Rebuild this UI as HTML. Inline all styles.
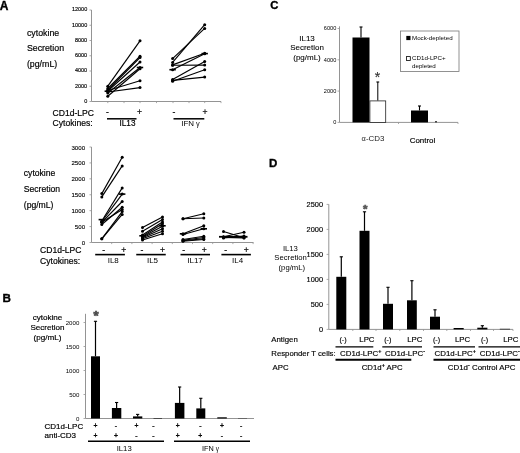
<!DOCTYPE html>
<html><head><meta charset="utf-8"><title>Figure</title>
<style>html,body{margin:0;padding:0;background:#fff;}svg{display:block;}text{font-family:"Liberation Sans",Arial,sans-serif;fill:#000;}</style>
</head><body>
<svg width="520" height="453" viewBox="0 0 520 453">
<rect x="0" y="0" width="520" height="453" fill="#fff"/>
<text x="-0.2" y="10" font-size="12" text-anchor="start" font-weight="bold" stroke="#000" stroke-width="0.35">A</text>
<line x1="91.5" y1="10.0" x2="91.5" y2="101.5" stroke="#949494" stroke-width="1"/>
<line x1="91.5" y1="101.5" x2="221" y2="101.5" stroke="#949494" stroke-width="1"/>
<line x1="89.5" y1="101.5" x2="91.5" y2="101.5" stroke="#949494" stroke-width="0.8"/>
<text x="87.2" y="102.98" font-size="5.5" text-anchor="end" stroke="#000" stroke-width="0.15">0</text>
<line x1="89.5" y1="86.25" x2="91.5" y2="86.25" stroke="#949494" stroke-width="0.8"/>
<text x="87.2" y="87.73" font-size="5.5" text-anchor="end" stroke="#000" stroke-width="0.15">2000</text>
<line x1="89.5" y1="71.0" x2="91.5" y2="71.0" stroke="#949494" stroke-width="0.8"/>
<text x="87.2" y="72.48" font-size="5.5" text-anchor="end" stroke="#000" stroke-width="0.15">4000</text>
<line x1="89.5" y1="55.75" x2="91.5" y2="55.75" stroke="#949494" stroke-width="0.8"/>
<text x="87.2" y="57.23" font-size="5.5" text-anchor="end" stroke="#000" stroke-width="0.15">6000</text>
<line x1="89.5" y1="40.5" x2="91.5" y2="40.5" stroke="#949494" stroke-width="0.8"/>
<text x="87.2" y="41.98" font-size="5.5" text-anchor="end" stroke="#000" stroke-width="0.15">8000</text>
<line x1="89.5" y1="25.25" x2="91.5" y2="25.25" stroke="#949494" stroke-width="0.8"/>
<text x="87.2" y="26.73" font-size="5.5" text-anchor="end" stroke="#000" stroke-width="0.15">10000</text>
<line x1="89.5" y1="10.0" x2="91.5" y2="10.0" stroke="#949494" stroke-width="0.8"/>
<text x="87.2" y="11.48" font-size="5.5" text-anchor="end" stroke="#000" stroke-width="0.15">12000</text>
<line x1="107.8" y1="101.5" x2="107.8" y2="103.1" stroke="#949494" stroke-width="0.8"/>
<line x1="124" y1="101.5" x2="124" y2="103.1" stroke="#949494" stroke-width="0.8"/>
<line x1="140" y1="101.5" x2="140" y2="103.1" stroke="#949494" stroke-width="0.8"/>
<line x1="156.5" y1="101.5" x2="156.5" y2="103.1" stroke="#949494" stroke-width="0.8"/>
<line x1="173" y1="101.5" x2="173" y2="103.1" stroke="#949494" stroke-width="0.8"/>
<line x1="189" y1="101.5" x2="189" y2="103.1" stroke="#949494" stroke-width="0.8"/>
<line x1="204.7" y1="101.5" x2="204.7" y2="103.1" stroke="#949494" stroke-width="0.8"/>
<line x1="221" y1="101.5" x2="221" y2="103.1" stroke="#949494" stroke-width="0.8"/>
<text x="26.9" y="35.67" font-size="8.8" text-anchor="start" stroke="#000" stroke-width="0.18">cytokine</text>
<text x="26.9" y="51.17" font-size="8.8" text-anchor="start" stroke="#000" stroke-width="0.18">Secretion</text>
<text x="26.9" y="66.97" font-size="8.8" text-anchor="start" stroke="#000" stroke-width="0.18">(pg/mL)</text>
<line x1="107.8" y1="86.2" x2="140" y2="40.8" stroke="#000" stroke-width="1.15"/>
<circle cx="107.8" cy="86.2" r="1.5" fill="#000"/>
<circle cx="140" cy="40.8" r="1.5" fill="#000"/>
<line x1="107.8" y1="88.5" x2="140" y2="56.2" stroke="#000" stroke-width="1.15"/>
<circle cx="107.8" cy="88.5" r="1.5" fill="#000"/>
<circle cx="140" cy="56.2" r="1.5" fill="#000"/>
<line x1="107.8" y1="90" x2="140" y2="57.5" stroke="#000" stroke-width="1.15"/>
<circle cx="107.8" cy="90" r="1.5" fill="#000"/>
<circle cx="140" cy="57.5" r="1.5" fill="#000"/>
<line x1="107.8" y1="91" x2="140" y2="62" stroke="#000" stroke-width="1.15"/>
<circle cx="107.8" cy="91" r="1.5" fill="#000"/>
<circle cx="140" cy="62" r="1.5" fill="#000"/>
<line x1="107.8" y1="93" x2="140" y2="67.5" stroke="#000" stroke-width="1.15"/>
<circle cx="107.8" cy="93" r="1.5" fill="#000"/>
<circle cx="140" cy="67.5" r="1.5" fill="#000"/>
<line x1="107.8" y1="96.3" x2="140" y2="68.8" stroke="#000" stroke-width="1.15"/>
<circle cx="107.8" cy="96.3" r="1.5" fill="#000"/>
<circle cx="140" cy="68.8" r="1.5" fill="#000"/>
<line x1="107.8" y1="90.5" x2="140" y2="80.8" stroke="#000" stroke-width="1.15"/>
<circle cx="107.8" cy="90.5" r="1.5" fill="#000"/>
<circle cx="140" cy="80.8" r="1.5" fill="#000"/>
<line x1="107.8" y1="92" x2="140" y2="87.6" stroke="#000" stroke-width="1.15"/>
<circle cx="107.8" cy="92" r="1.5" fill="#000"/>
<circle cx="140" cy="87.6" r="1.5" fill="#000"/>
<line x1="104.6" y1="91.2" x2="111.0" y2="91.2" stroke="#000" stroke-width="1.6"/>
<line x1="136.8" y1="67.5" x2="143.2" y2="67.5" stroke="#000" stroke-width="1.6"/>
<line x1="172.6" y1="58.6" x2="204.7" y2="28.4" stroke="#000" stroke-width="1.15"/>
<circle cx="172.6" cy="58.6" r="1.5" fill="#000"/>
<circle cx="204.7" cy="28.4" r="1.5" fill="#000"/>
<line x1="172.6" y1="62.4" x2="204.7" y2="24.7" stroke="#000" stroke-width="1.15"/>
<circle cx="172.6" cy="62.4" r="1.5" fill="#000"/>
<circle cx="204.7" cy="24.7" r="1.5" fill="#000"/>
<line x1="172.6" y1="64.9" x2="204.7" y2="53.2" stroke="#000" stroke-width="1.15"/>
<circle cx="172.6" cy="64.9" r="1.5" fill="#000"/>
<circle cx="204.7" cy="53.2" r="1.5" fill="#000"/>
<line x1="172.6" y1="65.2" x2="204.7" y2="65.1" stroke="#000" stroke-width="1.15"/>
<circle cx="172.6" cy="65.2" r="1.5" fill="#000"/>
<circle cx="204.7" cy="65.1" r="1.5" fill="#000"/>
<line x1="172.6" y1="69.7" x2="204.7" y2="53.8" stroke="#000" stroke-width="1.15"/>
<circle cx="172.6" cy="69.7" r="1.5" fill="#000"/>
<circle cx="204.7" cy="53.8" r="1.5" fill="#000"/>
<line x1="172.6" y1="79.4" x2="204.7" y2="61.4" stroke="#000" stroke-width="1.15"/>
<circle cx="172.6" cy="79.4" r="1.5" fill="#000"/>
<circle cx="204.7" cy="61.4" r="1.5" fill="#000"/>
<line x1="172.6" y1="81.3" x2="204.7" y2="69.7" stroke="#000" stroke-width="1.15"/>
<circle cx="172.6" cy="81.3" r="1.5" fill="#000"/>
<circle cx="204.7" cy="69.7" r="1.5" fill="#000"/>
<line x1="172.6" y1="80.4" x2="204.7" y2="77.1" stroke="#000" stroke-width="1.15"/>
<circle cx="172.6" cy="80.4" r="1.5" fill="#000"/>
<circle cx="204.7" cy="77.1" r="1.5" fill="#000"/>
<line x1="169.4" y1="69.7" x2="175.79999999999998" y2="69.7" stroke="#000" stroke-width="1.6"/>
<line x1="201.5" y1="53.6" x2="207.89999999999998" y2="53.6" stroke="#000" stroke-width="1.6"/>
<text x="52.5" y="115.6" font-size="8.6" text-anchor="start" stroke="#000" stroke-width="0.18">CD1d-LPC</text>
<text x="52.5" y="126.1" font-size="8.6" text-anchor="start" stroke="#000" stroke-width="0.18">Cytokines:</text>
<text x="107.5" y="115.4" font-size="8.6" text-anchor="middle" stroke="#000" stroke-width="0.18">-</text>
<text x="139.5" y="115.4" font-size="8.6" text-anchor="middle" stroke="#000" stroke-width="0.18">+</text>
<text x="174" y="115.4" font-size="8.6" text-anchor="middle" stroke="#000" stroke-width="0.18">-</text>
<text x="205" y="115.4" font-size="8.6" text-anchor="middle" stroke="#000" stroke-width="0.18">+</text>
<line x1="107" y1="118.8" x2="136.5" y2="118.8" stroke="#000" stroke-width="1.5"/>
<line x1="173.5" y1="118.8" x2="204.3" y2="118.8" stroke="#000" stroke-width="1.5"/>
<text x="127.5" y="126.35" font-size="8.2" text-anchor="middle" stroke="#000" stroke-width="0.18">IL13</text>
<text x="190.5" y="126.44" font-size="7.9" text-anchor="middle">IFN <tspan font-size="7.4">γ</tspan></text>
<line x1="91.5" y1="147" x2="91.5" y2="242.5" stroke="#949494" stroke-width="1"/>
<line x1="91.5" y1="242.5" x2="253.5" y2="242.5" stroke="#949494" stroke-width="1"/>
<line x1="89.5" y1="242.5" x2="91.5" y2="242.5" stroke="#949494" stroke-width="0.8"/>
<text x="85.1" y="245.01" font-size="6.15" text-anchor="end" stroke="#000" stroke-width="0.12">0</text>
<line x1="89.5" y1="226.58333333333334" x2="91.5" y2="226.58333333333334" stroke="#949494" stroke-width="0.8"/>
<text x="85.1" y="229.1" font-size="6.15" text-anchor="end" stroke="#000" stroke-width="0.12">500</text>
<line x1="89.5" y1="210.66666666666666" x2="91.5" y2="210.66666666666666" stroke="#949494" stroke-width="0.8"/>
<text x="85.1" y="213.18" font-size="6.15" text-anchor="end" stroke="#000" stroke-width="0.12">1000</text>
<line x1="89.5" y1="194.75" x2="91.5" y2="194.75" stroke="#949494" stroke-width="0.8"/>
<text x="85.1" y="197.26" font-size="6.15" text-anchor="end" stroke="#000" stroke-width="0.12">1500</text>
<line x1="89.5" y1="178.83333333333334" x2="91.5" y2="178.83333333333334" stroke="#949494" stroke-width="0.8"/>
<text x="85.1" y="181.35" font-size="6.15" text-anchor="end" stroke="#000" stroke-width="0.12">2000</text>
<line x1="89.5" y1="162.91666666666669" x2="91.5" y2="162.91666666666669" stroke="#949494" stroke-width="0.8"/>
<text x="85.1" y="165.43" font-size="6.15" text-anchor="end" stroke="#000" stroke-width="0.12">2500</text>
<line x1="89.5" y1="147.0" x2="91.5" y2="147.0" stroke="#949494" stroke-width="0.8"/>
<text x="85.1" y="149.51" font-size="6.15" text-anchor="end" stroke="#000" stroke-width="0.12">3000</text>
<line x1="111.7" y1="242.5" x2="111.7" y2="244.1" stroke="#949494" stroke-width="0.8"/>
<line x1="131.9" y1="242.5" x2="131.9" y2="244.1" stroke="#949494" stroke-width="0.8"/>
<line x1="152.1" y1="242.5" x2="152.1" y2="244.1" stroke="#949494" stroke-width="0.8"/>
<line x1="172.3" y1="242.5" x2="172.3" y2="244.1" stroke="#949494" stroke-width="0.8"/>
<line x1="192.5" y1="242.5" x2="192.5" y2="244.1" stroke="#949494" stroke-width="0.8"/>
<line x1="212.7" y1="242.5" x2="212.7" y2="244.1" stroke="#949494" stroke-width="0.8"/>
<line x1="232.9" y1="242.5" x2="232.9" y2="244.1" stroke="#949494" stroke-width="0.8"/>
<line x1="253.1" y1="242.5" x2="253.1" y2="244.1" stroke="#949494" stroke-width="0.8"/>
<text x="23.8" y="176.1" font-size="8.6" text-anchor="start" stroke="#000" stroke-width="0.18">cytokine</text>
<text x="23.8" y="191.9" font-size="8.6" text-anchor="start" stroke="#000" stroke-width="0.18">Secretion</text>
<text x="23.8" y="207.6" font-size="8.6" text-anchor="start" stroke="#000" stroke-width="0.18">(pg/mL)</text>
<line x1="101.8" y1="193.6" x2="122.2" y2="157.3" stroke="#000" stroke-width="1.15"/>
<circle cx="101.8" cy="193.6" r="1.5" fill="#000"/>
<circle cx="122.2" cy="157.3" r="1.5" fill="#000"/>
<line x1="101.8" y1="196.9" x2="122.2" y2="165.9" stroke="#000" stroke-width="1.15"/>
<circle cx="101.8" cy="196.9" r="1.5" fill="#000"/>
<circle cx="122.2" cy="165.9" r="1.5" fill="#000"/>
<line x1="101.8" y1="221" x2="122.2" y2="187.9" stroke="#000" stroke-width="1.15"/>
<circle cx="101.8" cy="221" r="1.5" fill="#000"/>
<circle cx="122.2" cy="187.9" r="1.5" fill="#000"/>
<line x1="101.8" y1="221.5" x2="122.2" y2="194.1" stroke="#000" stroke-width="1.15"/>
<circle cx="101.8" cy="221.5" r="1.5" fill="#000"/>
<circle cx="122.2" cy="194.1" r="1.5" fill="#000"/>
<line x1="101.8" y1="222.3" x2="122.2" y2="201.5" stroke="#000" stroke-width="1.15"/>
<circle cx="101.8" cy="222.3" r="1.5" fill="#000"/>
<circle cx="122.2" cy="201.5" r="1.5" fill="#000"/>
<line x1="101.8" y1="224.5" x2="122.2" y2="207.3" stroke="#000" stroke-width="1.15"/>
<circle cx="101.8" cy="224.5" r="1.5" fill="#000"/>
<circle cx="122.2" cy="207.3" r="1.5" fill="#000"/>
<line x1="101.8" y1="222.3" x2="122.2" y2="209.4" stroke="#000" stroke-width="1.15"/>
<circle cx="101.8" cy="222.3" r="1.5" fill="#000"/>
<circle cx="122.2" cy="209.4" r="1.5" fill="#000"/>
<line x1="101.8" y1="238.8" x2="122.2" y2="211.6" stroke="#000" stroke-width="1.15"/>
<circle cx="101.8" cy="238.8" r="1.5" fill="#000"/>
<circle cx="122.2" cy="211.6" r="1.5" fill="#000"/>
<line x1="101.8" y1="238.8" x2="122.2" y2="214.4" stroke="#000" stroke-width="1.15"/>
<circle cx="101.8" cy="238.8" r="1.5" fill="#000"/>
<circle cx="122.2" cy="214.4" r="1.5" fill="#000"/>
<line x1="98.6" y1="219.6" x2="105.0" y2="219.6" stroke="#000" stroke-width="1.6"/>
<line x1="119.0" y1="194.1" x2="125.4" y2="194.1" stroke="#000" stroke-width="1.6"/>
<line x1="142.5" y1="227.5" x2="162.5" y2="217" stroke="#000" stroke-width="1.15"/>
<circle cx="142.5" cy="227.5" r="1.5" fill="#000"/>
<circle cx="162.5" cy="217" r="1.5" fill="#000"/>
<line x1="142.5" y1="231.2" x2="162.5" y2="219.5" stroke="#000" stroke-width="1.15"/>
<circle cx="142.5" cy="231.2" r="1.5" fill="#000"/>
<circle cx="162.5" cy="219.5" r="1.5" fill="#000"/>
<line x1="142.5" y1="235" x2="162.5" y2="222" stroke="#000" stroke-width="1.15"/>
<circle cx="142.5" cy="235" r="1.5" fill="#000"/>
<circle cx="162.5" cy="222" r="1.5" fill="#000"/>
<line x1="142.5" y1="236.2" x2="162.5" y2="223.8" stroke="#000" stroke-width="1.15"/>
<circle cx="142.5" cy="236.2" r="1.5" fill="#000"/>
<circle cx="162.5" cy="223.8" r="1.5" fill="#000"/>
<line x1="142.5" y1="237" x2="162.5" y2="226.2" stroke="#000" stroke-width="1.15"/>
<circle cx="142.5" cy="237" r="1.5" fill="#000"/>
<circle cx="162.5" cy="226.2" r="1.5" fill="#000"/>
<line x1="142.5" y1="237.8" x2="162.5" y2="228.8" stroke="#000" stroke-width="1.15"/>
<circle cx="142.5" cy="237.8" r="1.5" fill="#000"/>
<circle cx="162.5" cy="228.8" r="1.5" fill="#000"/>
<line x1="142.5" y1="238.8" x2="162.5" y2="231.2" stroke="#000" stroke-width="1.15"/>
<circle cx="142.5" cy="238.8" r="1.5" fill="#000"/>
<circle cx="162.5" cy="231.2" r="1.5" fill="#000"/>
<line x1="142.5" y1="240" x2="162.5" y2="233.8" stroke="#000" stroke-width="1.15"/>
<circle cx="142.5" cy="240" r="1.5" fill="#000"/>
<circle cx="162.5" cy="233.8" r="1.5" fill="#000"/>
<line x1="139.3" y1="235.8" x2="145.7" y2="235.8" stroke="#000" stroke-width="1.6"/>
<line x1="159.3" y1="225.8" x2="165.7" y2="225.8" stroke="#000" stroke-width="1.6"/>
<line x1="183" y1="218.8" x2="203.8" y2="213.8" stroke="#000" stroke-width="1.15"/>
<circle cx="183" cy="218.8" r="1.5" fill="#000"/>
<circle cx="203.8" cy="213.8" r="1.5" fill="#000"/>
<line x1="183" y1="218.8" x2="203.8" y2="218" stroke="#000" stroke-width="1.15"/>
<circle cx="183" cy="218.8" r="1.5" fill="#000"/>
<circle cx="203.8" cy="218" r="1.5" fill="#000"/>
<line x1="183" y1="233.8" x2="203.8" y2="225.8" stroke="#000" stroke-width="1.15"/>
<circle cx="183" cy="233.8" r="1.5" fill="#000"/>
<circle cx="203.8" cy="225.8" r="1.5" fill="#000"/>
<line x1="183" y1="234.5" x2="203.8" y2="228.8" stroke="#000" stroke-width="1.15"/>
<circle cx="183" cy="234.5" r="1.5" fill="#000"/>
<circle cx="203.8" cy="228.8" r="1.5" fill="#000"/>
<line x1="183" y1="239.5" x2="203.8" y2="236.2" stroke="#000" stroke-width="1.15"/>
<circle cx="183" cy="239.5" r="1.5" fill="#000"/>
<circle cx="203.8" cy="236.2" r="1.5" fill="#000"/>
<line x1="183" y1="240.3" x2="203.8" y2="237.5" stroke="#000" stroke-width="1.15"/>
<circle cx="183" cy="240.3" r="1.5" fill="#000"/>
<circle cx="203.8" cy="237.5" r="1.5" fill="#000"/>
<line x1="183" y1="240.8" x2="203.8" y2="238.8" stroke="#000" stroke-width="1.15"/>
<circle cx="183" cy="240.8" r="1.5" fill="#000"/>
<circle cx="203.8" cy="238.8" r="1.5" fill="#000"/>
<line x1="183" y1="241.2" x2="203.8" y2="239.5" stroke="#000" stroke-width="1.15"/>
<circle cx="183" cy="241.2" r="1.5" fill="#000"/>
<circle cx="203.8" cy="239.5" r="1.5" fill="#000"/>
<line x1="179.8" y1="233.8" x2="186.2" y2="233.8" stroke="#000" stroke-width="1.6"/>
<line x1="200.60000000000002" y1="228.8" x2="207.0" y2="228.8" stroke="#000" stroke-width="1.6"/>
<line x1="223.5" y1="231.5" x2="244" y2="237.7" stroke="#000" stroke-width="1.15"/>
<circle cx="223.5" cy="231.5" r="1.5" fill="#000"/>
<circle cx="244" cy="237.7" r="1.5" fill="#000"/>
<line x1="223.5" y1="236.7" x2="244" y2="232.3" stroke="#000" stroke-width="1.15"/>
<circle cx="223.5" cy="236.7" r="1.5" fill="#000"/>
<circle cx="244" cy="232.3" r="1.5" fill="#000"/>
<line x1="223.5" y1="236.9" x2="244" y2="237.1" stroke="#000" stroke-width="1.15"/>
<circle cx="223.5" cy="236.9" r="1.5" fill="#000"/>
<circle cx="244" cy="237.1" r="1.5" fill="#000"/>
<line x1="223.5" y1="237.5" x2="244" y2="238" stroke="#000" stroke-width="1.15"/>
<circle cx="223.5" cy="237.5" r="1.5" fill="#000"/>
<circle cx="244" cy="238" r="1.5" fill="#000"/>
<line x1="223.5" y1="238" x2="244" y2="236" stroke="#000" stroke-width="1.15"/>
<circle cx="223.5" cy="238" r="1.5" fill="#000"/>
<circle cx="244" cy="236" r="1.5" fill="#000"/>
<line x1="219" y1="236.8" x2="247.5" y2="236.8" stroke="#000" stroke-width="1.8"/>
<text x="40" y="253.1" font-size="8.6" text-anchor="start" stroke="#000" stroke-width="0.18">CD1d-LPC</text>
<text x="40" y="263.9" font-size="8.6" text-anchor="start" stroke="#000" stroke-width="0.18">Cytokines:</text>
<text x="103.75" y="253.1" font-size="8.6" text-anchor="middle" stroke="#000" stroke-width="0.18">-</text>
<text x="123.75" y="253.1" font-size="8.6" text-anchor="middle" stroke="#000" stroke-width="0.18">+</text>
<line x1="95.2" y1="254.6" x2="124.9" y2="254.6" stroke="#000" stroke-width="1.6"/>
<text x="113.25" y="263.38" font-size="7.99" text-anchor="middle">IL8</text>
<text x="142" y="253.1" font-size="8.6" text-anchor="middle" stroke="#000" stroke-width="0.18">-</text>
<text x="162.5" y="253.1" font-size="8.6" text-anchor="middle" stroke="#000" stroke-width="0.18">+</text>
<line x1="136.25" y1="254.6" x2="165.75" y2="254.6" stroke="#000" stroke-width="1.6"/>
<text x="152.5" y="263.38" font-size="7.99" text-anchor="middle">IL5</text>
<text x="183.75" y="253.1" font-size="8.6" text-anchor="middle" stroke="#000" stroke-width="0.18">-</text>
<text x="204.25" y="253.1" font-size="8.6" text-anchor="middle" stroke="#000" stroke-width="0.18">+</text>
<line x1="180.5" y1="254.6" x2="210" y2="254.6" stroke="#000" stroke-width="1.6"/>
<text x="195" y="263.38" font-size="7.99" text-anchor="middle">IL17</text>
<text x="225.7" y="253.1" font-size="8.6" text-anchor="middle" stroke="#000" stroke-width="0.18">-</text>
<text x="246.3" y="253.1" font-size="8.6" text-anchor="middle" stroke="#000" stroke-width="0.18">+</text>
<line x1="221.4" y1="254.6" x2="250.9" y2="254.6" stroke="#000" stroke-width="1.6"/>
<text x="237.6" y="263.38" font-size="7.99" text-anchor="middle">IL4</text>
<text x="2.6" y="302.1" font-size="11.7" text-anchor="start" font-weight="bold" stroke="#000" stroke-width="0.35">B</text>
<line x1="85.5" y1="313.8" x2="85.5" y2="418.5" stroke="#949494" stroke-width="1"/>
<line x1="85.5" y1="418.5" x2="254" y2="418.5" stroke="#949494" stroke-width="1"/>
<line x1="83.5" y1="418.5" x2="85.5" y2="418.5" stroke="#949494" stroke-width="0.8"/>
<text x="79.3" y="421.2" font-size="6.1" text-anchor="end">0</text>
<line x1="83.5" y1="394.5" x2="85.5" y2="394.5" stroke="#949494" stroke-width="0.8"/>
<text x="79.3" y="397.2" font-size="6.1" text-anchor="end">500</text>
<line x1="83.5" y1="370.5" x2="85.5" y2="370.5" stroke="#949494" stroke-width="0.8"/>
<text x="79.3" y="373.2" font-size="6.1" text-anchor="end">1000</text>
<line x1="83.5" y1="346.5" x2="85.5" y2="346.5" stroke="#949494" stroke-width="0.8"/>
<text x="79.3" y="349.2" font-size="6.1" text-anchor="end">1500</text>
<line x1="83.5" y1="322.5" x2="85.5" y2="322.5" stroke="#949494" stroke-width="0.8"/>
<text x="79.3" y="325.2" font-size="6.1" text-anchor="end">2000</text>
<text x="47.5" y="320.42" font-size="8.1" text-anchor="middle" stroke="#000" stroke-width="0.18">cytokine</text>
<text x="47.5" y="330.42" font-size="8.1" text-anchor="middle" stroke="#000" stroke-width="0.18">Secretion</text>
<text x="47.5" y="340.42" font-size="8.1" text-anchor="middle" stroke="#000" stroke-width="0.18">(pg/mL)</text>
<rect x="91" y="356.3" width="9" height="62.19999999999999" fill="#000"/>
<line x1="95.5" y1="321.3" x2="95.5" y2="356.3" stroke="#000" stroke-width="1.2"/>
<line x1="93.9" y1="321.3" x2="97.1" y2="321.3" stroke="#000" stroke-width="1.1"/>
<rect x="111.9" y="408" width="9.399999999999991" height="10.5" fill="#000"/>
<line x1="116.6" y1="402.5" x2="116.6" y2="408" stroke="#000" stroke-width="1.2"/>
<line x1="115.0" y1="402.5" x2="118.19999999999999" y2="402.5" stroke="#000" stroke-width="1.1"/>
<rect x="133" y="416.4" width="9.300000000000011" height="2.1000000000000227" fill="#000"/>
<line x1="137.65" y1="414.4" x2="137.65" y2="416.4" stroke="#000" stroke-width="1.2"/>
<line x1="136.05" y1="414.4" x2="139.25" y2="414.4" stroke="#000" stroke-width="1.1"/>
<rect x="153.5" y="418" width="8.5" height="0.5" fill="#000"/>
<rect x="174.9" y="402.9" width="9.5" height="15.600000000000023" fill="#000"/>
<line x1="179.65" y1="387" x2="179.65" y2="402.9" stroke="#000" stroke-width="1.2"/>
<line x1="178.05" y1="387" x2="181.25" y2="387" stroke="#000" stroke-width="1.1"/>
<rect x="196.3" y="408.4" width="9.0" height="10.100000000000023" fill="#000"/>
<line x1="200.8" y1="398.3" x2="200.8" y2="408.4" stroke="#000" stroke-width="1.2"/>
<line x1="199.20000000000002" y1="398.3" x2="202.4" y2="398.3" stroke="#000" stroke-width="1.1"/>
<rect x="217.3" y="417.3" width="9.5" height="1.1999999999999886" fill="#000"/>
<rect x="238" y="418.2" width="9" height="0.30000000000001137" fill="#000"/>
<text x="96" y="319.61" font-size="13" text-anchor="middle" font-weight="bold" style="fill:#4a4a4a;stroke:#4a4a4a;stroke-width:0.7px">*</text>
<text x="44.5" y="429.18" font-size="8.0" text-anchor="start" stroke="#000" stroke-width="0.18">CD1d-LPC</text>
<text x="44.5" y="438.38" font-size="8.0" text-anchor="start" stroke="#000" stroke-width="0.18">anti-CD3</text>
<text x="95.5" y="428.05" font-size="6.8" text-anchor="middle" stroke="#000" stroke-width="0.3">+</text>
<text x="95.5" y="437.55" font-size="6.8" text-anchor="middle" stroke="#000" stroke-width="0.3">+</text>
<text x="116" y="428.05" font-size="6.8" text-anchor="middle" stroke="#000" stroke-width="0.3">-</text>
<text x="116" y="437.55" font-size="6.8" text-anchor="middle" stroke="#000" stroke-width="0.3">+</text>
<text x="136.5" y="428.05" font-size="6.8" text-anchor="middle" stroke="#000" stroke-width="0.3">+</text>
<text x="136.5" y="437.55" font-size="6.8" text-anchor="middle" stroke="#000" stroke-width="0.3">-</text>
<text x="153.3" y="428.05" font-size="6.8" text-anchor="middle" stroke="#000" stroke-width="0.3">-</text>
<text x="153.3" y="437.55" font-size="6.8" text-anchor="middle" stroke="#000" stroke-width="0.3">-</text>
<text x="177.8" y="428.05" font-size="6.8" text-anchor="middle" stroke="#000" stroke-width="0.3">+</text>
<text x="177.8" y="437.55" font-size="6.8" text-anchor="middle" stroke="#000" stroke-width="0.3">+</text>
<text x="200.3" y="428.05" font-size="6.8" text-anchor="middle" stroke="#000" stroke-width="0.3">-</text>
<text x="200.3" y="437.55" font-size="6.8" text-anchor="middle" stroke="#000" stroke-width="0.3">+</text>
<text x="222" y="428.05" font-size="6.8" text-anchor="middle" stroke="#000" stroke-width="0.3">+</text>
<text x="222" y="437.55" font-size="6.8" text-anchor="middle" stroke="#000" stroke-width="0.3">-</text>
<text x="241.2" y="428.05" font-size="6.8" text-anchor="middle" stroke="#000" stroke-width="0.3">-</text>
<text x="241.2" y="437.55" font-size="6.8" text-anchor="middle" stroke="#000" stroke-width="0.3">-</text>
<line x1="88" y1="441.2" x2="164" y2="441.2" stroke="#000" stroke-width="1.5"/>
<line x1="174" y1="441.2" x2="250" y2="441.2" stroke="#000" stroke-width="1.5"/>
<text x="124.2" y="450.77" font-size="7.7" text-anchor="middle">IL13</text>
<text x="210.5" y="450.63" font-size="7.3" text-anchor="middle">IFN <tspan font-size="6.4" dy="0.8">γ</tspan></text>
<text x="270.2" y="8.9" font-size="11.3" text-anchor="start" font-weight="bold" stroke="#000" stroke-width="0.35">C</text>
<line x1="339.5" y1="26.3" x2="339.5" y2="122.4" stroke="#949494" stroke-width="1"/>
<line x1="339.5" y1="122.4" x2="458" y2="122.4" stroke="#949494" stroke-width="1"/>
<line x1="337.5" y1="122.4" x2="339.5" y2="122.4" stroke="#949494" stroke-width="0.8"/>
<text x="336.3" y="124.22" font-size="5.6" text-anchor="end">0</text>
<line x1="337.5" y1="91.10000000000001" x2="339.5" y2="91.10000000000001" stroke="#949494" stroke-width="0.8"/>
<text x="336.3" y="92.92" font-size="5.6" text-anchor="end">2000</text>
<line x1="337.5" y1="59.800000000000004" x2="339.5" y2="59.800000000000004" stroke="#949494" stroke-width="0.8"/>
<text x="336.3" y="61.62" font-size="5.6" text-anchor="end">4000</text>
<line x1="337.5" y1="28.5" x2="339.5" y2="28.5" stroke="#949494" stroke-width="0.8"/>
<text x="336.3" y="30.32" font-size="5.6" text-anchor="end">6000</text>
<line x1="398.5" y1="122.4" x2="398.5" y2="124.0" stroke="#949494" stroke-width="0.8"/>
<line x1="458" y1="122.4" x2="458" y2="124.0" stroke="#949494" stroke-width="0.8"/>
<text x="307" y="40.88" font-size="7.99" text-anchor="middle" stroke="#000" stroke-width="0.08">IL13</text>
<text x="307" y="50.38" font-size="7.99" text-anchor="middle" stroke="#000" stroke-width="0.08">Secretion</text>
<text x="307" y="60.38" font-size="7.99" text-anchor="middle" stroke="#000" stroke-width="0.08">(pg/mL)</text>
<rect x="352.5" y="37.5" width="17" height="84.9" fill="#000"/>
<line x1="361" y1="27" x2="361" y2="37.5" stroke="#000" stroke-width="1.1"/>
<line x1="359.5" y1="27" x2="362.5" y2="27" stroke="#000" stroke-width="1.1"/>
<rect x="369.9" y="100.9" width="15.8" height="21.5" fill="#fff" stroke="#222" stroke-width="0.8"/>
<line x1="377.8" y1="82" x2="377.8" y2="100.5" stroke="#000" stroke-width="1.0"/>
<line x1="376.4" y1="82" x2="379.2" y2="82" stroke="#000" stroke-width="1.1"/>
<text x="377.5" y="82.17" font-size="14" text-anchor="middle" style="fill:#333;stroke:#333;stroke-width:0.15px">*</text>
<rect x="411" y="110.5" width="17" height="11.900000000000006" fill="#000"/>
<line x1="419.5" y1="106" x2="419.5" y2="110.5" stroke="#000" stroke-width="1.1"/>
<line x1="418" y1="106" x2="421" y2="106" stroke="#000" stroke-width="1.1"/>
<line x1="435" y1="121.80000000000001" x2="437" y2="121.80000000000001" stroke="#000" stroke-width="1"/>
<text x="373" y="141.06" font-size="7.95" text-anchor="middle" fill="#222" style="fill:#222"><tspan font-size="7.4">α</tspan>-CD3</text>
<text x="422.5" y="142.76" font-size="7.95" text-anchor="middle" stroke="#000" stroke-width="0.15">Control</text>
<rect x="400.5" y="31" width="58.5" height="40.5" fill="#fff" stroke="#777" stroke-width="0.8"/>
<rect x="406.3" y="35.9" width="4.2" height="4.2" fill="#000"/>
<text x="412" y="40.13" font-size="6.2" text-anchor="start">Mock-depleted</text>
<rect x="406.5" y="56.6" width="3.8" height="3.8" fill="#fff" stroke="#000" stroke-width="0.8"/>
<text x="412" y="60.13" font-size="6.2" text-anchor="start">CD1d-LPC+</text>
<text x="412" y="67.83" font-size="6.2" text-anchor="start">depleted</text>
<text x="268.9" y="167" font-size="11.5" text-anchor="start" font-weight="bold" stroke="#000" stroke-width="0.35">D</text>
<line x1="328.8" y1="204.3" x2="328.8" y2="329.4" stroke="#949494" stroke-width="1"/>
<line x1="328.8" y1="329.4" x2="513" y2="329.4" stroke="#949494" stroke-width="1"/>
<line x1="326.6" y1="329.4" x2="328.8" y2="329.4" stroke="#949494" stroke-width="0.8"/>
<text x="323.0" y="331.66" font-size="7.4" text-anchor="end" stroke="#000" stroke-width="0.15">0</text>
<line x1="326.6" y1="304.4" x2="328.8" y2="304.4" stroke="#949494" stroke-width="0.8"/>
<text x="323.0" y="306.66" font-size="7.4" text-anchor="end" stroke="#000" stroke-width="0.15">500</text>
<line x1="326.6" y1="279.4" x2="328.8" y2="279.4" stroke="#949494" stroke-width="0.8"/>
<text x="323.0" y="281.66" font-size="7.4" text-anchor="end" stroke="#000" stroke-width="0.15">1000</text>
<line x1="326.6" y1="254.39999999999998" x2="328.8" y2="254.39999999999998" stroke="#949494" stroke-width="0.8"/>
<text x="323.0" y="256.66" font-size="7.4" text-anchor="end" stroke="#000" stroke-width="0.15">1500</text>
<line x1="326.6" y1="229.39999999999998" x2="328.8" y2="229.39999999999998" stroke="#949494" stroke-width="0.8"/>
<text x="323.0" y="231.66" font-size="7.4" text-anchor="end" stroke="#000" stroke-width="0.15">2000</text>
<line x1="326.6" y1="204.39999999999998" x2="328.8" y2="204.39999999999998" stroke="#949494" stroke-width="0.8"/>
<text x="323.0" y="206.66" font-size="7.4" text-anchor="end" stroke="#000" stroke-width="0.15">2500</text>
<text x="290.4" y="250.77" font-size="7.7" text-anchor="middle">IL13</text>
<text x="290.6" y="259.77" font-size="7.7" text-anchor="middle">Secretion</text>
<text x="291.8" y="269.57" font-size="7.7" text-anchor="middle">(pg/mL)</text>
<rect x="336.3" y="276.8" width="10.0" height="52.599999999999966" fill="#000"/>
<line x1="341.3" y1="256.8" x2="341.3" y2="276.8" stroke="#000" stroke-width="1.2"/>
<line x1="339.7" y1="256.8" x2="342.90000000000003" y2="256.8" stroke="#000" stroke-width="1.1"/>
<rect x="359.5" y="230.8" width="10.0" height="98.59999999999997" fill="#000"/>
<line x1="364.5" y1="211.8" x2="364.5" y2="230.8" stroke="#000" stroke-width="1.2"/>
<line x1="362.9" y1="211.8" x2="366.1" y2="211.8" stroke="#000" stroke-width="1.1"/>
<rect x="383" y="303.8" width="10" height="25.599999999999966" fill="#000"/>
<line x1="388.0" y1="287.3" x2="388.0" y2="303.8" stroke="#000" stroke-width="1.2"/>
<line x1="386.4" y1="287.3" x2="389.6" y2="287.3" stroke="#000" stroke-width="1.1"/>
<rect x="407" y="300.3" width="9.800000000000011" height="29.099999999999966" fill="#000"/>
<line x1="411.9" y1="280.7" x2="411.9" y2="300.3" stroke="#000" stroke-width="1.2"/>
<line x1="410.29999999999995" y1="280.7" x2="413.5" y2="280.7" stroke="#000" stroke-width="1.1"/>
<rect x="430" y="316.7" width="10" height="12.699999999999989" fill="#000"/>
<line x1="435.0" y1="309.8" x2="435.0" y2="316.7" stroke="#000" stroke-width="1.2"/>
<line x1="433.4" y1="309.8" x2="436.6" y2="309.8" stroke="#000" stroke-width="1.1"/>
<rect x="453.6" y="328" width="10.099999999999966" height="1.3999999999999773" fill="#000"/>
<rect x="477.3" y="327.7" width="10.099999999999966" height="1.6999999999999886" fill="#000"/>
<line x1="482.35" y1="325.7" x2="482.35" y2="327.7" stroke="#000" stroke-width="1.2"/>
<line x1="480.75" y1="325.7" x2="483.95000000000005" y2="325.7" stroke="#000" stroke-width="1.1"/>
<rect x="499.8" y="328.8" width="10.199999999999989" height="0.5999999999999659" fill="#000"/>
<text x="365.3" y="213.08" font-size="11.5" text-anchor="middle" font-weight="bold" style="fill:#555;stroke:#555;stroke-width:0.6px">*</text>
<line x1="352.8" y1="329.4" x2="352.8" y2="331.0" stroke="#949494" stroke-width="0.8"/>
<line x1="376" y1="329.4" x2="376" y2="331.0" stroke="#949494" stroke-width="0.8"/>
<line x1="399.8" y1="329.4" x2="399.8" y2="331.0" stroke="#949494" stroke-width="0.8"/>
<line x1="423.5" y1="329.4" x2="423.5" y2="331.0" stroke="#949494" stroke-width="0.8"/>
<line x1="446.8" y1="329.4" x2="446.8" y2="331.0" stroke="#949494" stroke-width="0.8"/>
<line x1="470.5" y1="329.4" x2="470.5" y2="331.0" stroke="#949494" stroke-width="0.8"/>
<line x1="493.5" y1="329.4" x2="493.5" y2="331.0" stroke="#949494" stroke-width="0.8"/>
<line x1="513" y1="329.4" x2="513" y2="331.0" stroke="#949494" stroke-width="0.8"/>
<text x="271.3" y="342.31" font-size="7.8" text-anchor="start" stroke="#000" stroke-width="0.15">Antigen</text>
<text x="271.3" y="356.09" font-size="7.75" text-anchor="start" stroke="#000" stroke-width="0.15">Responder T cells:</text>
<text x="272.5" y="369.81" font-size="7.8" text-anchor="start" stroke="#000" stroke-width="0.15">APC</text>
<text x="343" y="341.79" font-size="7.2" text-anchor="middle" stroke="#000" stroke-width="0.15">(-)</text>
<text x="387.8" y="341.79" font-size="7.2" text-anchor="middle" stroke="#000" stroke-width="0.15">(-)</text>
<text x="436.5" y="341.79" font-size="7.2" text-anchor="middle" stroke="#000" stroke-width="0.15">(-)</text>
<text x="484.5" y="341.79" font-size="7.2" text-anchor="middle" stroke="#000" stroke-width="0.15">(-)</text>
<text x="366.9" y="342.21" font-size="7.8" text-anchor="middle" stroke="#000" stroke-width="0.15">LPC</text>
<text x="414.8" y="342.21" font-size="7.8" text-anchor="middle" stroke="#000" stroke-width="0.15">LPC</text>
<text x="462.6" y="342.21" font-size="7.8" text-anchor="middle" stroke="#000" stroke-width="0.15">LPC</text>
<text x="510.8" y="342.21" font-size="7.8" text-anchor="middle" stroke="#000" stroke-width="0.15">LPC</text>
<line x1="335.5" y1="346.8" x2="373.3" y2="346.8" stroke="#000" stroke-width="1.3"/>
<line x1="382.3" y1="346.8" x2="422" y2="346.8" stroke="#000" stroke-width="1.3"/>
<line x1="433.5" y1="346.8" x2="475" y2="346.8" stroke="#000" stroke-width="1.3"/>
<line x1="478.5" y1="346.8" x2="520" y2="346.8" stroke="#000" stroke-width="1.3"/>
<text x="340" y="356.04" font-size="7.9" text-anchor="start" stroke="#000" stroke-width="0.15">CD1d-LPC<tspan font-size="5.4" dy="-2.6" font-weight="bold">+</tspan></text>
<text x="385" y="356.04" font-size="7.9" text-anchor="start" stroke="#000" stroke-width="0.15">CD1d-LPC<tspan font-size="5.4" dy="-2.6" font-weight="bold">-</tspan></text>
<text x="434.5" y="356.04" font-size="7.9" text-anchor="start" stroke="#000" stroke-width="0.15">CD1d-LPC<tspan font-size="5.4" dy="-2.6" font-weight="bold">+</tspan></text>
<text x="479.8" y="356.04" font-size="7.9" text-anchor="start" stroke="#000" stroke-width="0.15">CD1d-LPC<tspan font-size="5.4" dy="-2.6" font-weight="bold">-</tspan></text>
<line x1="335.5" y1="359.8" x2="411.3" y2="359.8" stroke="#000" stroke-width="2"/>
<line x1="433.5" y1="359.8" x2="520" y2="359.8" stroke="#000" stroke-width="2"/>
<text x="361.7" y="369.81" font-size="7.8" text-anchor="start" stroke="#000" stroke-width="0.15">CD1d<tspan font-size="5.4" dy="-2.6" font-weight="bold">+</tspan><tspan dy="2.6"> APC</tspan></text>
<text x="447.8" y="369.74" font-size="7.9" text-anchor="start" stroke="#000" stroke-width="0.15">CD1d<tspan font-size="5.4" dy="-2.6" font-weight="bold">-</tspan><tspan dy="2.6"> Control APC</tspan></text>
</svg>
</body></html>
